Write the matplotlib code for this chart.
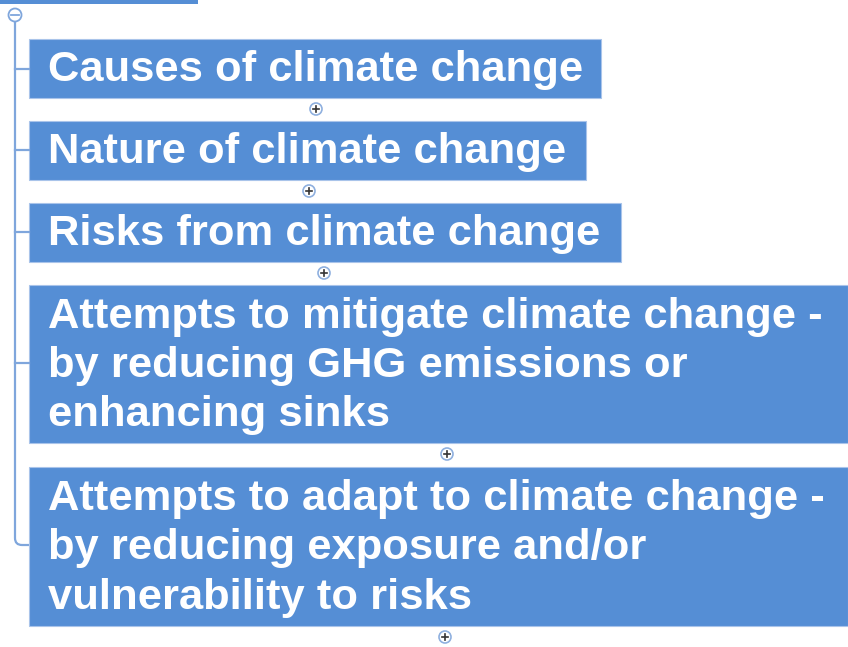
import matplotlib

matplotlib.use("Agg")

import matplotlib.pyplot as plt
from matplotlib.patches import Rectangle, Circle
from matplotlib.path import Path
from matplotlib.patches import PathPatch

topics = [
    "Causes of climate change",
    "Nature of climate change",
    "Risks from climate change",
    "Attempts to mitigate climate change -\nby reducing GHG emissions or\nenhancing sinks",
    "Attempts to adapt to climate change -\nby reducing exposure and/or\nvulnerability to risks",
]

# layout in pixels (left, top, right, bottom)
box_tops = [39, 121, 203, 285, 467]
box_bottoms = [98, 180, 262, 443, 626]
box_rights = [601, 586, 621, 848, 848]
plus_x = [316, 309, 324, 447, 445]
tick_y = [69, 150, 232, 363, 545]

W, H = 848, 647
BOX = "#558ed5"
LINE = "#7fa6dc"

fig = plt.figure(figsize=(W / 100, H / 100), dpi=100)
ax = fig.add_axes([0, 0, 1, 1])
ax.set_xlim(0, W)
ax.set_ylim(H, 0)
ax.axis("off")

# parent node stub at the top
ax.add_patch(Rectangle((0, -2), 198, 6, facecolor=BOX, edgecolor="none"))

# collapse (minus) button
ax.add_patch(Circle((15, 15), 6.5, facecolor="white", edgecolor=LINE, lw=1.3))
ax.plot([11, 19], [15, 15], color=LINE, lw=1.3)

# vertical connector with rounded end
verts = [(15, 21.5), (15, 538), (15, 545), (22, 545), (29, 545)]
codes = [Path.MOVETO, Path.LINETO, Path.CURVE3, Path.CURVE3, Path.LINETO]
ax.add_patch(PathPatch(Path(verts, codes), facecolor="none", edgecolor=LINE, lw=1.6))

for i, label in enumerate(topics):
    top, bot, right = box_tops[i], box_bottoms[i], box_rights[i]
    ax.add_patch(Rectangle((29, top), right - 29, bot - top,
                           facecolor=BOX, edgecolor="#a9c4ea", lw=0.8))
    if i < len(topics) - 1:
        ax.plot([15, 29], [tick_y[i], tick_y[i]], color=LINE, lw=1.6)
    ax.text(48, (top + bot) / 2 + 2, label, color="white", fontsize=31.3,
            fontweight="bold", family="Liberation Sans", va="center", ha="left",
            linespacing=1.3)
    # expand (plus) button below each box
    cx, cy = plus_x[i], bot + 11
    ax.add_patch(Circle((cx, cy), 6, facecolor="white", edgecolor="#8fb0df", lw=1.2))
    ax.plot([cx - 3.2, cx + 3.2], [cy, cy], color="#333333", lw=1.2)
    ax.plot([cx, cx], [cy - 3.2, cy + 3.2], color="#333333", lw=1.2)

fig.savefig("out.png", dpi=100)
